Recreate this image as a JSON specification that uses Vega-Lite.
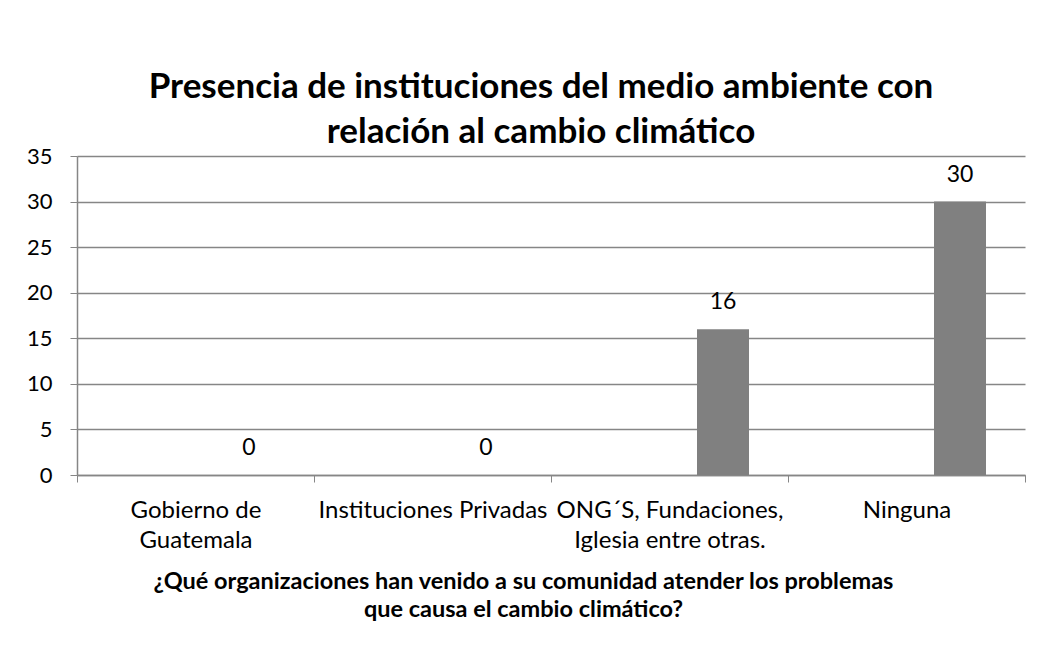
{
  "$schema": "https://vega.github.io/schema/vega-lite/v6.json",
  "width": 948,
  "height": 319,
  "autosize": "none",
  "padding": {"left": 77, "top": 156, "right": 16, "bottom": 181},
  "background": "white",
  "title": {
    "text": ["Presencia de instituciones del medio ambiente con", "relación al cambio climático"],
    "font": "Lato",
    "fontSize": 35,
    "fontWeight": "bold",
    "color": "#000000",
    "anchor": "middle",
    "frame": "group",
    "lineHeight": 45,
    "offset": -5,
    "dx": -10
  },
  "data": {
    "values": [
      {"organizacion": "Gobierno de Guatemala", "cantidad": 0},
      {"organizacion": "Instituciones Privadas", "cantidad": 0},
      {"organizacion": "ONG´S, Fundaciones, Iglesia entre otras.", "cantidad": 16},
      {"organizacion": "Ninguna", "cantidad": 30}
    ]
  },
  "encoding": {
    "x": {
      "field": "organizacion",
      "type": "nominal",
      "sort": null,
      "scale": {"paddingInner": 0, "paddingOuter": 0},
      "axis": {
        "title": ["¿Qué organizaciones han venido a su comunidad atender los problemas", "que causa el cambio climático?"],
        "titleFont": "Lato",
        "titleFontSize": 23.5,
        "titleFontWeight": "bold",
        "titleColor": "#000000",
        "titleLineHeight": 28,
        "titlePadding": 17,
        "titleX": 446,
        "labelAngle": 0,
        "labelFont": "Lato",
        "labelFontSize": 24,
        "labelColor": "#000000",
        "labelLineHeight": 30,
        "labelPadding": 16,
        "labelLimit": 0,
        "labelExpr": "datum.label == 'Gobierno de Guatemala' ? ['Gobierno de', 'Guatemala'] : datum.label == 'ONG´S, Fundaciones, Iglesia entre otras.' ? ['ONG´S, Fundaciones,', 'Iglesia entre otras.'] : datum.label",
        "tickBand": "extent",
        "tickSize": 7,
        "tickColor": "#868686",
        "domainColor": "#868686",
        "domainWidth": 1.5,
        "grid": false
      }
    },
    "xOffset": {"datum": "b", "scale": {"domain": ["a", "b"], "paddingInner": 0.514, "paddingOuter": 0.3645}},
    "y": {
      "field": "cantidad",
      "type": "quantitative",
      "scale": {"domain": [0, 35], "nice": false},
      "axis": {
        "title": null,
        "values": [0, 5, 10, 15, 20, 25, 30, 35],
        "labelFont": "Lato",
        "labelFontSize": 22,
        "labelColor": "#000000",
        "labelPadding": 18,
        "tickSize": 7,
        "tickColor": "#868686",
        "domainColor": "#868686",
        "domainWidth": 1.5,
        "gridColor": "#868686",
        "gridWidth": 1.5
      }
    }
  },
  "layer": [
    {"mark": {"type": "bar", "color": "#808080"}},
    {
      "mark": {"type": "text", "font": "Lato", "fontSize": 23, "color": "#000000", "baseline": "middle", "dy": -27},
      "encoding": {"text": {"field": "cantidad", "type": "quantitative"}}
    }
  ],
  "config": {"view": {"stroke": null}}
}
